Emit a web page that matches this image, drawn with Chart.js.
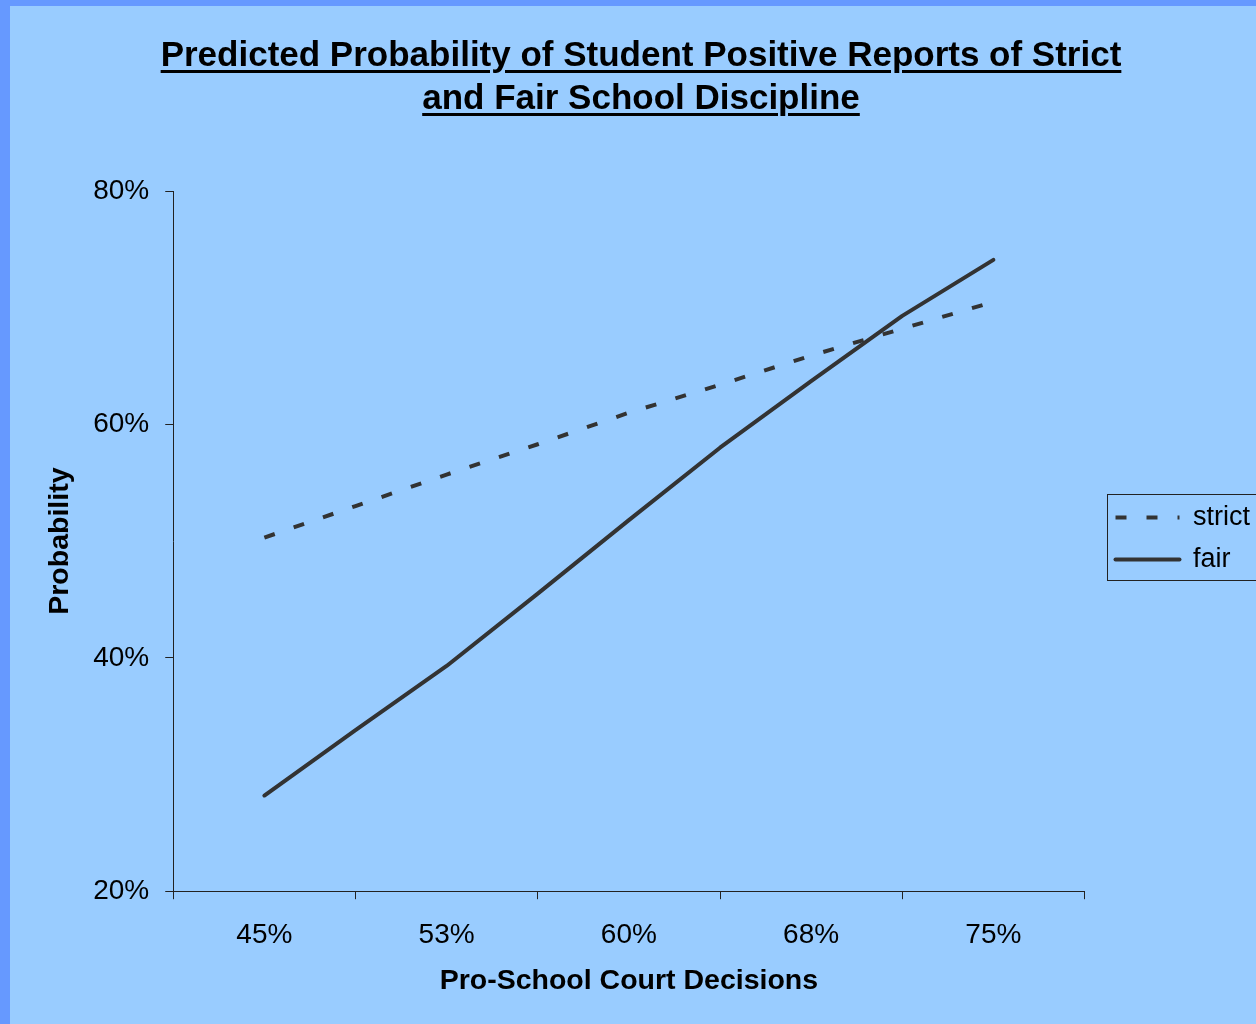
<!DOCTYPE html>
<html>
<head>
<meta charset="utf-8">
<script src="https://cdn.jsdelivr.net/npm/chart.js@4"></script>
<style>
  body { margin: 0; }
  #wrap {
    position: relative;
    width: 1256px;
    height: 1024px;
    background: #99CCFF;
    overflow: hidden;
  }
  .franja { position: absolute; background: #6699FF; }
  #franjaIzq { left: 0; top: 0; width: 10px; height: 1024px; }
  #franjaSup { left: 0; top: 0; width: 1256px; height: 6px; }
  #titulo {
    position: absolute;
    left: 1px;
    top: 32px;
    width: 1280px;
    text-align: center;
    font: bold 35px "Liberation Sans", Arial, sans-serif;
    line-height: 43px;
    color: #000;
    text-decoration: underline;
    text-decoration-thickness: 3px;
    text-underline-offset: 4px;
  }
  #myChart { position: absolute; left: 0; top: 0; }
</style>
</head>
<body>
<div id="wrap">
  <div class="franja" id="franjaIzq"></div>
  <div class="franja" id="franjaSup"></div>
  <canvas id="myChart" width="1256" height="1024"></canvas>
  <div id="titulo">Predicted Probability of Student Positive Reports of Strict<br>and Fair School Discipline</div>
</div>
<script>
// court decision levels shown on the x axis
const etiquetasX = ["45%", "53%", "60%", "68%", "75%"]
// positions along the axis (category units, half steps)
const posX = [0, 0.5, 1, 1.5, 2, 2.5, 3, 3.5, 4]
const strict = [50.3, 53.0, 55.7, 58.3, 61.0, 63.4, 65.9, 68.2, 70.5]
const fair = [28.2, 33.8, 39.3, 45.5, 51.8, 58.0, 63.7, 69.3, 74.1]
const ticksY = [20, 40, 60, 80]

const colorLinea = "#333333"
const colorEje = "#222222"
const fuente = "'Liberation Sans', Arial, sans-serif"
const correLeyenda = 16
const subeLeyenda = 56

const puntos = (valores) => valores.map((v, i) => ({ x: posX[i], y: v }))

// moves the legend next to the plot and draws the frame around it
const marcoLeyenda = {
  id: "marcoLeyenda",
  afterLayout(chart) {
    const leg = chart.legend
    leg.left += correLeyenda
    leg.right += correLeyenda
    leg.top -= subeLeyenda
    leg.bottom -= subeLeyenda
  },
  afterDraw(chart) {
    const cajas = chart.legend.legendHitBoxes
    if (!cajas || !cajas.length) return
    const ctx = chart.ctx
    const ultima = cajas[cajas.length - 1]
    const x = Math.round(cajas[0].left - 9)
    const y = Math.round(cajas[0].top - 10)
    const alto = Math.round(ultima.top + ultima.height + 7 - y)
    ctx.save()
    ctx.strokeStyle = colorEje
    ctx.lineWidth = 1
    ctx.strokeRect(x + 0.5, y + 0.5, 200, alto)
    ctx.restore()
  }
}

const config = {
  type: "line",
  data: {
    datasets: [
      {
        label: "strict",
        data: puntos(strict),
        borderColor: colorLinea,
        backgroundColor: colorLinea,
        borderWidth: 4,
        borderDash: [11, 20],
        borderCapStyle: "butt",
        pointRadius: 0,
        tension: 0,
      },
      {
        label: "fair",
        data: puntos(fair),
        borderColor: colorLinea,
        backgroundColor: colorLinea,
        borderWidth: 4,
        borderCapStyle: "round",
        borderJoinStyle: "round",
        pointRadius: 0,
        tension: 0,
      },
    ],
  },
  options: {
    responsive: false,
    animation: false,
    devicePixelRatio: 1,
    layout: { padding: { left: 43, top: 191, right: 12, bottom: 26 } },
    plugins: {
      tooltip: { enabled: false },
      title: { display: false },
      legend: {
        position: "right",
        labels: {
          color: "#000",
          font: { family: fuente, size: 27 },
          usePointStyle: true,
          pointStyle: "line",
          pointStyleWidth: 64,
          padding: 15,
          // line samples take width and dash from each dataset
          generateLabels: (chart) =>
            chart.data.datasets.map((ds, i) => ({
              text: ds.label,
              datasetIndex: i,
              hidden: false,
              pointStyle: "line",
              strokeStyle: ds.borderColor,
              fillStyle: ds.borderColor,
              lineWidth: ds.borderWidth,
              lineDash: ds.borderDash || [],
              lineCap: ds.borderCapStyle,
            })),
        },
      },
    },
    scales: {
      x: {
        type: "linear",
        min: -0.5,
        max: 4.5,
        border: { color: colorEje, width: 1 },
        grid: {
          drawOnChartArea: false,
          tickLength: 8,
          tickColor: (c) => (c.tick && !Number.isInteger(c.tick.value) ? colorEje : "rgba(0,0,0,0)"),
        },
        ticks: {
          stepSize: 0.5,
          autoSkip: false,
          maxRotation: 0,
          padding: 19,
          color: "#000",
          font: { family: fuente, size: 28 },
          callback: (v) => (Number.isInteger(v) ? etiquetasX[v] : ""),
        },
        title: {
          display: true,
          text: "Pro-School Court Decisions",
          color: "#000",
          font: { family: fuente, size: 28.5, weight: "bold" },
          padding: { top: -7, bottom: 0 },
        },
      },
      y: {
        min: 20,
        max: 80,
        border: { color: colorEje, width: 1 },
        grid: { drawOnChartArea: false, tickLength: 8, tickColor: colorEje },
        afterBuildTicks: (eje) => {
          eje.ticks = ticksY.map((v) => ({ value: v }))
        },
        ticks: {
          padding: 16,
          color: "#000",
          font: { family: fuente, size: 28 },
          callback: (v) => v + "%",
        },
        title: {
          display: true,
          text: "Probability",
          color: "#000",
          font: { family: fuente, size: 28.5, weight: "bold" },
          padding: { top: 0, bottom: 0 },
        },
      },
    },
  },
  plugins: [marcoLeyenda],
}

const myChart = new Chart(document.getElementById("myChart"), config)
</script>
</body>
</html>
